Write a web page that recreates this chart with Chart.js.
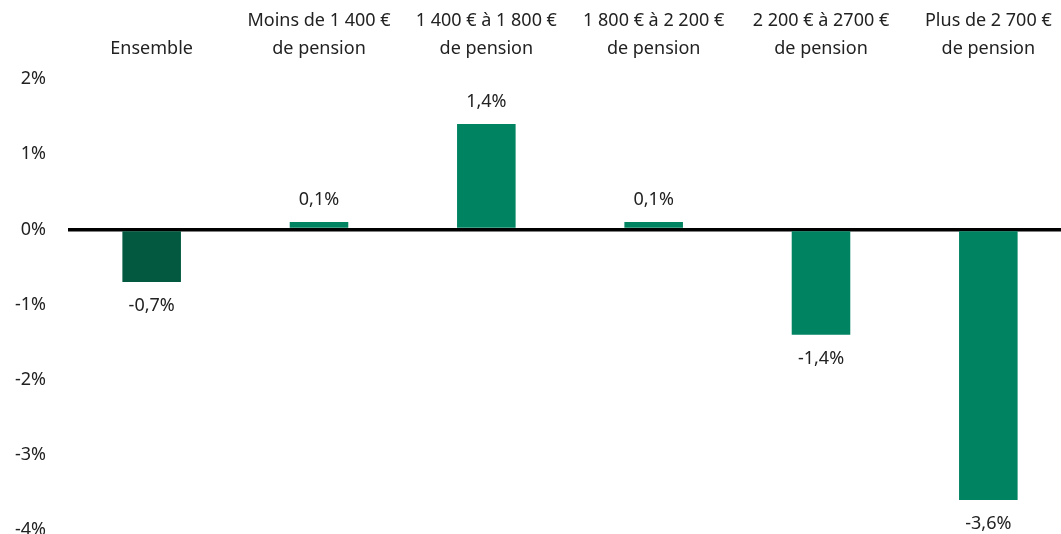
<!DOCTYPE html>
<html lang="fr">
<head>
<meta charset="utf-8">
<title>Évolution par niveau de pension</title>
<script src="https://cdn.jsdelivr.net/npm/chart.js@4/dist/chart.umd.min.js"></script>
<style>
  html, body { margin: 0; padding: 0; background: #fff; overflow: hidden; }
  #wrap { position: relative; width: 1072px; height: 563px; }
</style>
</head>
<body>
<div id="wrap"><canvas id="chart"></canvas></div>
<script>
// categories (two lines each where needed)
const categories = [
    "Ensemble",
    ["Moins de 1 400 €", "de pension"],
    ["1 400 € à 1 800 €", "de pension"],
    ["1 800 € à 2 200 €", "de pension"],
    ["2 200 € à 2700 €", "de pension"],
    ["Plus de 2 700 €", "de pension"]
];
const values = [-0.7, 0.1, 1.4, 0.1, -1.4, -3.6];
const barColors = ["#03593F", "#008361", "#008361", "#008361", "#008361", "#008361"];
const yTicks = [2, 1, 0, -1, -2, -3, -4];

const FONT = "'Noto Sans', sans-serif";

const fmt = v => v.toFixed(1).replace(".", ",") + "%";

// values written above / below each bar
const valueLabels = {
    id: "valueLabels",
    afterDatasetsDraw(chart) {
        const { ctx } = chart;
        const meta = chart.getDatasetMeta(0);
        ctx.save();
        ctx.font = "18px " + FONT;
        ctx.fillStyle = "#222";
        ctx.textAlign = "center";
        ctx.textBaseline = "middle";
        meta.data.forEach((bar, i) => {
            const v = values[i];
            const y = v >= 0 ? bar.y - 22 : bar.y + 24;
            ctx.fillText(fmt(v), bar.x, y);
        });
        ctx.restore();
    }
};

new Chart(document.getElementById("chart"), {
    type: "bar",
    data: {
        labels: categories,
        datasets: [{
            data: values,
            backgroundColor: barColors,
            barPercentage: 0.35,
            categoryPercentage: 1
        }]
    },
    options: {
        responsive: true,
        maintainAspectRatio: false,
        animation: false,
        layout: { padding: { left: 0, right: 0, top: 0, bottom: 6 } },
        plugins: { legend: { display: false }, tooltip: { enabled: false } },
        scales: {
            x: {
                position: "top",
                grid: { display: false },
                border: { display: false },
                ticks: {
                    autoSkip: false,
                    maxRotation: 0,
                    padding: 8,
                    color: "#222",
                    font: { family: FONT, size: 18, lineHeight: 1.55 }
                },
                afterFit: scale => { scale.height = 79; }
            },
            y: {
                min: -4,
                max: 2,
                afterBuildTicks: scale => { scale.ticks = yTicks.map(v => ({ value: v })); },
                grid: {
                    drawTicks: false,
                    color: c => c.tick && c.tick.value === 0 ? "#000" : "rgba(0,0,0,0)",
                    lineWidth: c => c.tick && c.tick.value === 0 ? 3.5 : 0
                },
                border: { display: false },
                ticks: {
                    padding: 22,
                    color: "#222",
                    font: { family: FONT, size: 18 },
                    callback: v => v + "%"
                },
                afterFit: scale => { scale.width = 68; }
            }
        }
    },
    plugins: [valueLabels]
});
</script>
</body>
</html>
